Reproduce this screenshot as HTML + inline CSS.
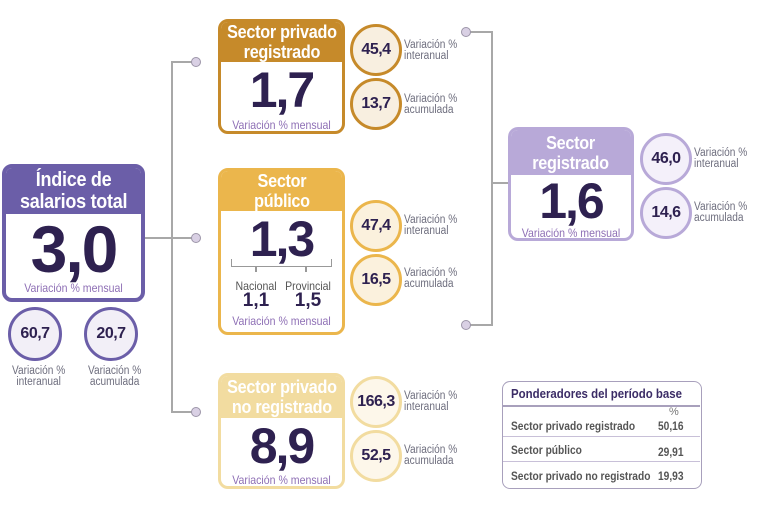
<!DOCTYPE html>
<html><head><meta charset="utf-8"><style>
*{margin:0;padding:0;box-sizing:border-box}
body{width:766px;height:518px;background:#fff;font-family:"Liberation Sans",sans-serif;position:relative;overflow:hidden}
.a{position:absolute}
.box{position:absolute;border-radius:10px;background:#fff;overflow:hidden;border:3px solid}
.hd{color:#fff;font-weight:bold;text-align:center;line-height:20px;font-size:18px;display:flex;align-items:center;justify-content:center;white-space:nowrap}
.hd span{display:inline-block;transform:scaleX(.9);letter-spacing:-.3px}
.num{position:absolute;left:0;right:0;text-align:center;font-weight:bold;color:#2e2150;letter-spacing:-2px}
.men{position:absolute;left:-10px;right:-10px;text-align:center;font-size:12px;color:#8e6fb5;transform:scaleX(.88);white-space:nowrap}
.c{position:absolute;border-radius:50%;border:3px solid;display:flex;align-items:center;justify-content:center;font-weight:bold;color:#2e2150;font-size:16px;letter-spacing:-.5px}
.lb{position:absolute;font-size:11.5px;color:#6e6e7e;line-height:11px;transform:scaleX(.88);transform-origin:left;white-space:nowrap}
.dot{position:absolute;width:10px;height:10px;border-radius:50%;background:#d9d0e4;border:1.5px solid #9c95a8}
.ln{position:absolute;background:#a8a8a8}
.t{position:absolute;transform:scaleX(.85);transform-origin:left;white-space:nowrap}
</style></head><body>
<div class="ln" style="left:144px;top:237px;width:50px;height:2px"></div>
<div class="ln" style="left:171px;top:61px;width:2px;height:352px"></div>
<div class="ln" style="left:171px;top:61px;width:22px;height:2px"></div>
<div class="ln" style="left:171px;top:411px;width:22px;height:2px"></div>
<div class="dot" style="left:191px;top:57px"></div>
<div class="dot" style="left:191px;top:233px"></div>
<div class="dot" style="left:191px;top:407px"></div>
<div class="ln" style="left:470px;top:31px;width:23px;height:2px"></div>
<div class="ln" style="left:470px;top:324px;width:23px;height:2px"></div>
<div class="ln" style="left:491px;top:31px;width:2px;height:295px"></div>
<div class="ln" style="left:491px;top:182px;width:18px;height:2px"></div>
<div class="dot" style="left:461px;top:27px"></div>
<div class="dot" style="left:461px;top:320px"></div>

<div class="box" style="left:2px;top:164px;width:143px;height:138px;border-color:#6b5ea8;border-width:4px">
<div class="hd" style="background:#6b5ea8;height:46px;font-size:20px;line-height:22px"><span>Índice de<br>salarios total</span></div>
<div class="num" style="top:46px;font-size:66px;line-height:70px">3,0</div>
<div class="men" style="top:113px">Variación % mensual</div>
</div>
<div class="c" style="left:8px;top:307px;width:54px;height:54px;border-color:#6b5ea8;background:#f2eff7">60,7</div>
<div class="c" style="left:84px;top:307px;width:54px;height:54px;border-color:#6b5ea8;background:#f2eff7">20,7</div>
<div class="lb" style="left:12px;top:366px;text-align:center">Variación %<br>interanual</div>
<div class="lb" style="left:88px;top:366px;text-align:center">Variación %<br>acumulada</div>

<div class="box" style="left:218px;top:19px;width:127px;height:115px;border-color:#c68a2a">
<div class="hd" style="background:#c68a2a;height:40px"><span>Sector privado<br>registrado</span></div>
<div class="num" style="top:42px;font-size:50px;line-height:52px">1,7</div>
<div class="men" style="top:96px">Variación % mensual</div>
</div>
<div class="c" style="left:350px;top:24px;width:52px;height:52px;border-color:#c68a2a;background:#f8efe0">45,4</div>
<div class="c" style="left:350px;top:78px;width:52px;height:52px;border-color:#c68a2a;background:#f8efe0">13,7</div>
<div class="lb" style="left:404px;top:40px">Variación %<br>interanual</div>
<div class="lb" style="left:404px;top:94px">Variación %<br>acumulada</div>

<div class="box" style="left:218px;top:168px;width:127px;height:167px;border-color:#ebb64c">
<div class="hd" style="background:#ebb64c;height:40px"><span>Sector<br>público</span></div>
<div class="num" style="top:42px;font-size:50px;line-height:52px">1,3</div>
<div class="a" style="left:10px;top:88px;width:101px;height:8px;border:1.5px solid #999;border-top:none"></div>
<div class="a" style="left:34px;top:96px;width:2px;height:5px;background:#999"></div>
<div class="a" style="left:84px;top:96px;width:2px;height:5px;background:#999"></div>
<div class="a" style="left:10px;top:108px;width:50px;text-align:center;font-size:12px;color:#555;transform:scaleX(.88)">Nacional</div>
<div class="a" style="left:58px;top:108px;width:58px;text-align:center;font-size:12px;color:#555;transform:scaleX(.88)">Provincial</div>
<div class="a" style="left:10px;top:119px;width:50px;text-align:center;font-size:19px;font-weight:bold;color:#2e2150">1,1</div>
<div class="a" style="left:60px;top:119px;width:54px;text-align:center;font-size:19px;font-weight:bold;color:#2e2150">1,5</div>
<div class="men" style="top:143px">Variación % mensual</div>
</div>
<div class="c" style="left:350px;top:200px;width:52px;height:52px;border-color:#ebb64c;background:#fbf1dd">47,4</div>
<div class="c" style="left:350px;top:254px;width:52px;height:52px;border-color:#ebb64c;background:#fbf1dd">16,5</div>
<div class="lb" style="left:404px;top:215px">Variación %<br>interanual</div>
<div class="lb" style="left:404px;top:268px">Variación %<br>acumulada</div>

<div class="box" style="left:218px;top:373px;width:127px;height:116px;border-color:#f2dca0">
<div class="hd" style="background:#f2dca0;height:42px"><span>Sector privado<br>no registrado</span></div>
<div class="num" style="top:44px;font-size:50px;line-height:52px">8,9</div>
<div class="men" style="top:97px">Variación % mensual</div>
</div>
<div class="c" style="left:350px;top:376px;width:52px;height:52px;border-color:#f2dca0;background:#fdf7ea">166,3</div>
<div class="c" style="left:350px;top:430px;width:52px;height:52px;border-color:#f2dca0;background:#fdf7ea">52,5</div>
<div class="lb" style="left:404px;top:391px">Variación %<br>interanual</div>
<div class="lb" style="left:404px;top:445px">Variación %<br>acumulada</div>

<div class="box" style="left:508px;top:127px;width:126px;height:114px;border-color:#b8a9d8">
<div class="hd" style="background:#b8a9d8;height:45px"><span>Sector<br>registrado</span></div>
<div class="num" style="top:45px;font-size:50px;line-height:52px">1,6</div>
<div class="men" style="top:96px">Variación % mensual</div>
</div>
<div class="c" style="left:640px;top:133px;width:52px;height:52px;border-color:#b8a9d8;background:#f4f0fa">46,0</div>
<div class="c" style="left:640px;top:187px;width:52px;height:52px;border-color:#b8a9d8;background:#f4f0fa">14,6</div>
<div class="lb" style="left:694px;top:148px">Variación %<br>interanual</div>
<div class="lb" style="left:694px;top:202px">Variación %<br>acumulada</div>

<div class="a" style="left:502px;top:381px;width:200px;height:108px;border:1.5px solid #a8a0bc;border-radius:8px;font-size:12px;font-weight:bold;color:#555">
<div class="t" style="left:8px;top:4px;color:#3b2c66;font-size:13px;transform:scaleX(.88)">Ponderadores del período base</div>
<div class="a" style="left:0;top:23px;width:197px;height:1.5px;background:#a8a0bc"></div>
<div class="a" style="left:166px;top:24px;font-weight:normal;color:#777;font-size:11px">%</div>
<div class="t" style="left:8px;top:37px">Sector privado registrado</div>
<div class="t" style="left:155px;top:37px">50,16</div>
<div class="a" style="left:0;top:54px;width:197px;height:1px;background:#c8c0d8"></div>
<div class="t" style="left:8px;top:61px">Sector público</div>
<div class="t" style="left:155px;top:63px">29,91</div>
<div class="a" style="left:0;top:79px;width:197px;height:1px;background:#c8c0d8"></div>
<div class="t" style="left:8px;top:87px">Sector privado no registrado</div>
<div class="t" style="left:155px;top:87px">19,93</div>
</div>
</body></html>
